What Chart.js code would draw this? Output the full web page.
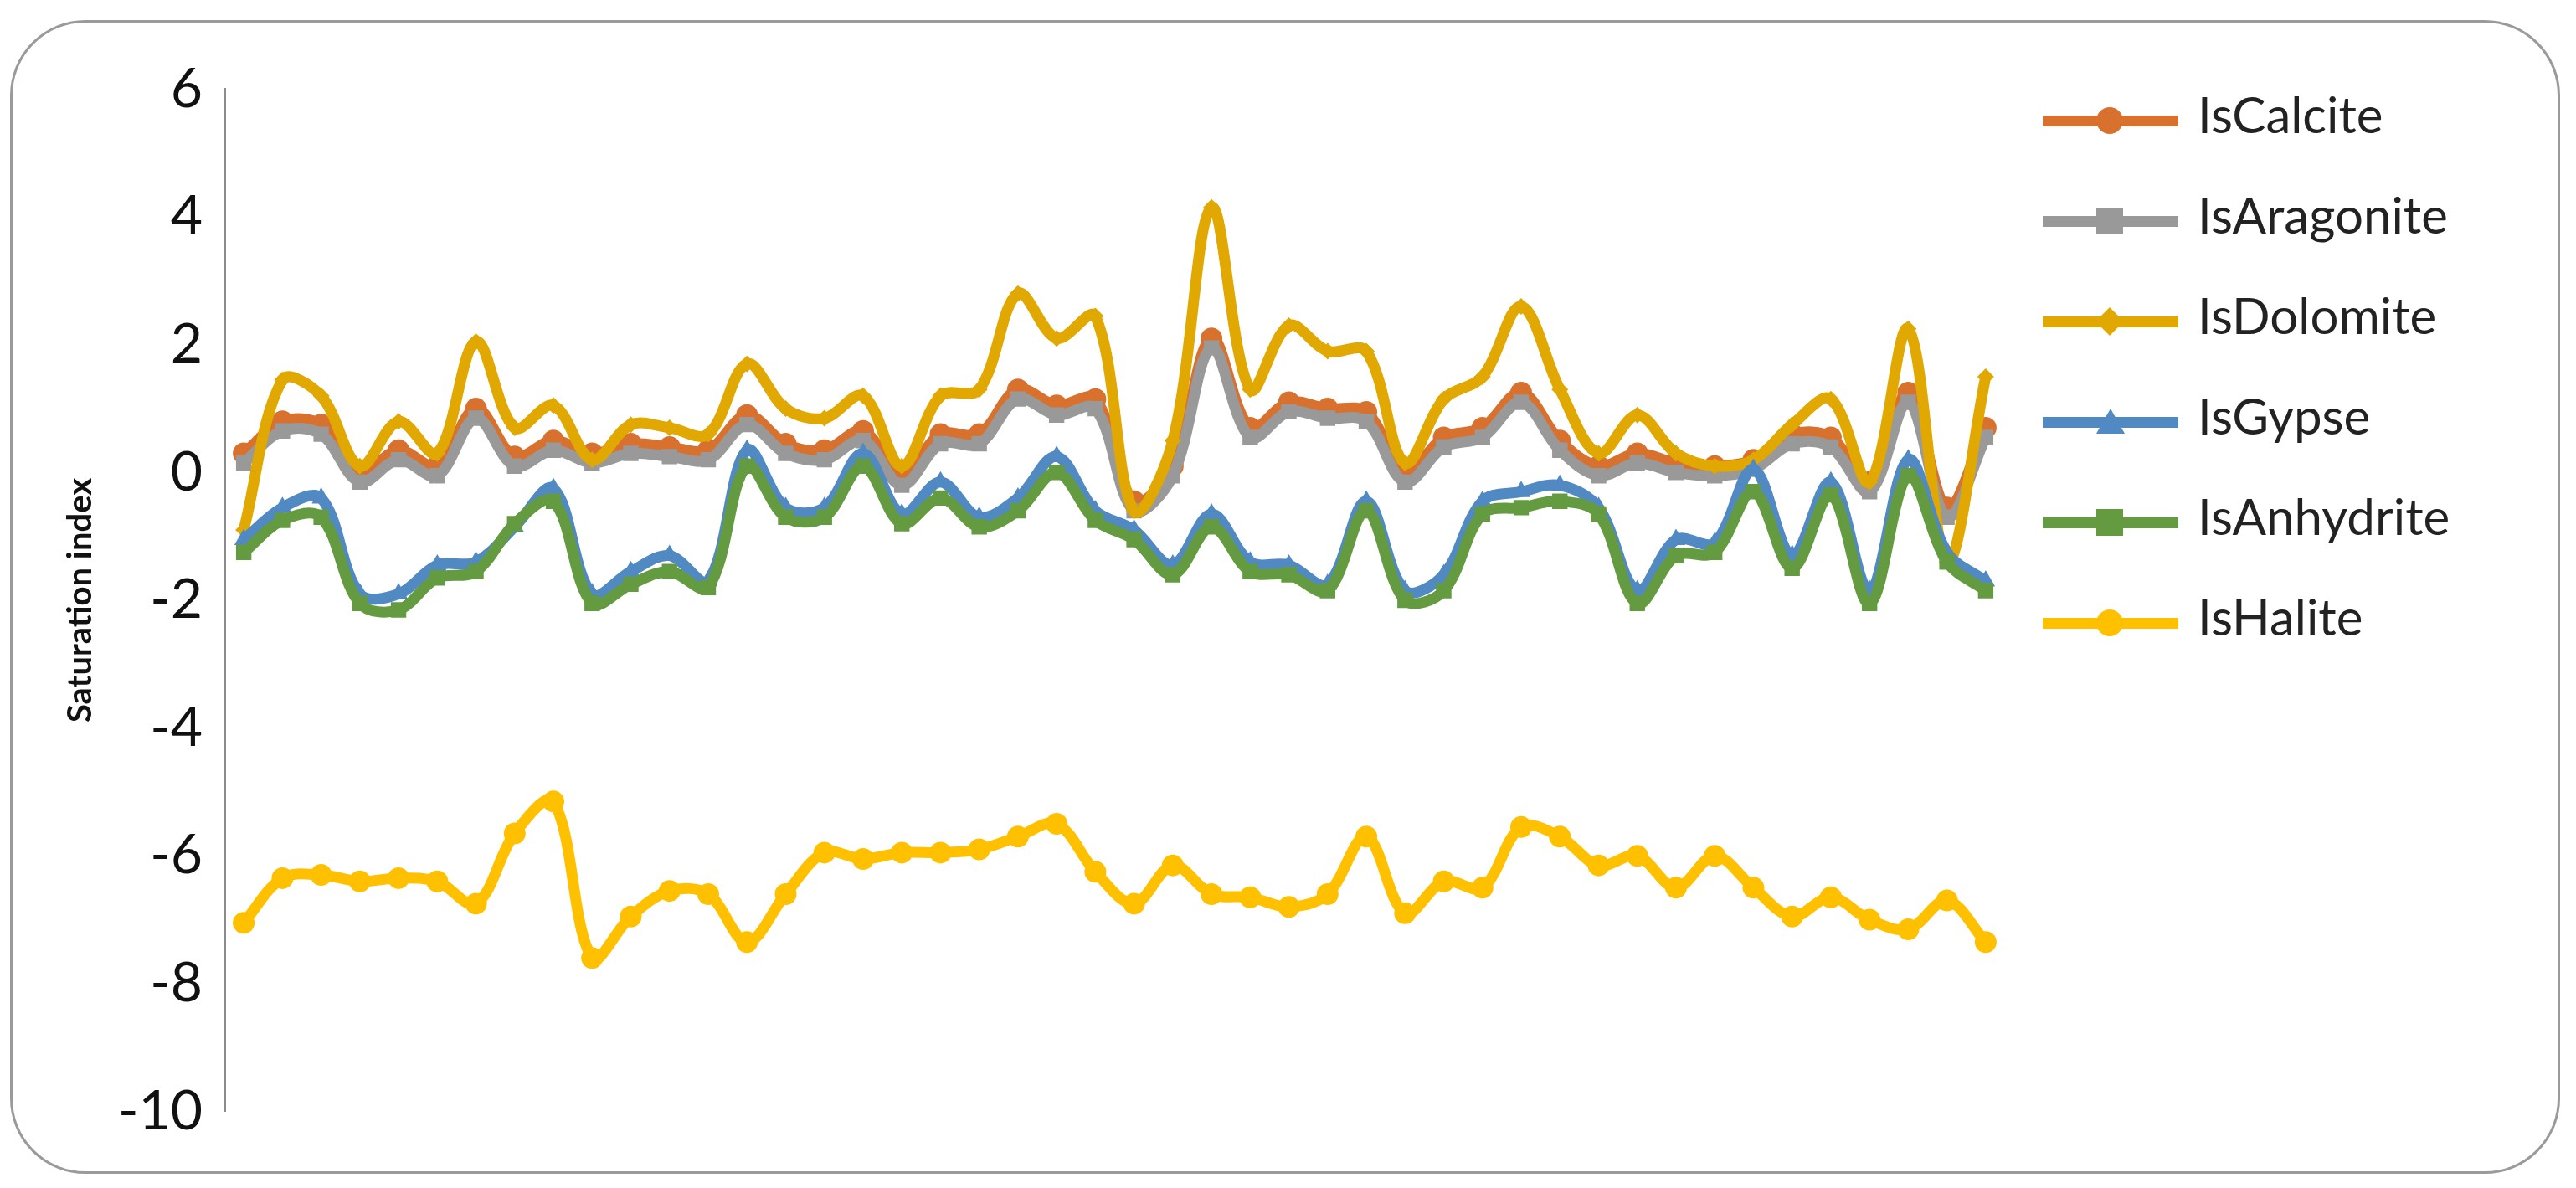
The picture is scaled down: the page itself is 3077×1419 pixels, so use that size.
<!DOCTYPE html>
<html><head><meta charset="utf-8">
<script src="https://cdn.jsdelivr.net/npm/chart.js@4/dist/chart.umd.min.js"></script>
<style>
  body{margin:0;background:#fff;width:3077px;height:1419px;position:relative;overflow:hidden;font-family:Lato,"Open Sans",sans-serif}
  #frame{position:absolute;left:12px;top:24px;width:3046px;height:1378px;border:3px solid #9a9a9a;border-radius:90px;box-sizing:border-box}
  #wrap{position:absolute;left:68px;top:49px;width:2340px;height:1336px}
  #legend{position:absolute;left:2440px;top:100px}
  .item{position:relative;height:120px;font-size:60px;color:#222}
  .item .ln{position:absolute;left:0;top:38px;width:162px;height:13px}
  .item .mk{position:absolute;left:64px;top:28px;width:32px;height:32px}
  .item span{position:absolute;left:185px;top:0px}
</style></head><body>
<div id="frame"></div>
<div id="wrap"><canvas id="c"></canvas></div>
<div id="legend"></div>
<script>
  var samples = []
  for (var i = 1; i <= 46; i++) samples.push('S' + i)

  var calcite = [0.3,0.8,0.75,0.0,0.35,0.1,1.0,0.25,0.5,0.3,0.45,0.4,0.35,0.9,0.45,0.35,0.65,-0.05,0.6,0.6,1.3,1.05,1.15,-0.45,0.1,2.1,0.7,1.1,1.0,0.95,0.0,0.55,0.7,1.25,0.5,0.1,0.3,0.15,0.1,0.2,0.6,0.55,-0.15,1.25,-0.55,0.7]
  var aragonite = [0.15,0.65,0.6,-0.15,0.2,-0.05,0.85,0.1,0.35,0.15,0.3,0.25,0.2,0.75,0.3,0.2,0.5,-0.2,0.45,0.45,1.15,0.9,1.0,-0.6,-0.05,1.95,0.55,0.95,0.85,0.8,-0.15,0.4,0.55,1.1,0.35,-0.05,0.15,0.0,-0.05,0.05,0.45,0.4,-0.3,1.1,-0.7,0.55]
  var dolomite = [-0.9,1.45,1.2,0.1,0.8,0.3,2.05,0.7,1.05,0.2,0.75,0.7,0.6,1.7,1.0,0.85,1.2,0.1,1.2,1.3,2.8,2.1,2.45,-0.6,0.5,4.15,1.3,2.3,1.9,1.9,0.15,1.15,1.5,2.6,1.3,0.3,0.9,0.3,0.1,0.2,0.75,1.15,-0.15,2.25,-1.4,1.5]
  var gypse = [-1.05,-0.55,-0.4,-1.9,-1.9,-1.45,-1.4,-0.85,-0.25,-1.9,-1.55,-1.3,-1.7,0.35,-0.55,-0.55,0.3,-0.65,-0.15,-0.7,-0.4,0.25,-0.6,-0.9,-1.45,-0.65,-1.4,-1.45,-1.75,-0.45,-1.85,-1.6,-0.45,-0.3,-0.2,-0.55,-1.85,-1.05,-1.1,0.05,-1.3,-0.15,-1.85,0.2,-1.25,-1.7]
  var anhydrite = [-1.25,-0.75,-0.7,-2.05,-2.15,-1.65,-1.55,-0.8,-0.45,-2.05,-1.75,-1.55,-1.8,0.1,-0.7,-0.7,0.1,-0.8,-0.4,-0.85,-0.6,0.0,-0.75,-1.05,-1.6,-0.85,-1.55,-1.6,-1.85,-0.6,-2.0,-1.85,-0.65,-0.55,-0.45,-0.65,-2.05,-1.3,-1.25,-0.3,-1.5,-0.35,-2.05,-0.05,-1.4,-1.85]
  var halite = [-7.05,-6.35,-6.3,-6.4,-6.35,-6.4,-6.75,-5.65,-5.15,-7.6,-6.95,-6.55,-6.6,-7.35,-6.6,-5.95,-6.05,-5.95,-5.95,-5.9,-5.7,-5.5,-6.25,-6.75,-6.15,-6.6,-6.65,-6.8,-6.6,-5.7,-6.9,-6.4,-6.5,-5.55,-5.7,-6.15,-6.0,-6.5,-6.0,-6.5,-6.95,-6.65,-7.0,-7.15,-6.7,-7.35]
  var yTicks = [6,4,2,0,-2,-4,-6,-8,-10]

  var series = [
    { label:'IsCalcite',   data:calcite,   color:'#d9712e', point:'circle',   order:6 },
    { label:'IsAragonite', data:aragonite, color:'#999999', point:'rect',     order:5 },
    { label:'IsDolomite',  data:dolomite,  color:'#e0a800', point:'rectRot',  order:4 },
    { label:'IsGypse',     data:gypse,     color:'#5189c2', point:'triangle', order:3 },
    { label:'IsAnhydrite', data:anhydrite, color:'#649b40', point:'rect',     order:2 },
    { label:'IsHalite',    data:halite,    color:'#ffc000', point:'circle',   order:1 }
  ]

  new Chart(document.getElementById('c'), {
    type:'line',
    data:{
      labels:samples,
      datasets:series.map(function(s){
        return { label:s.label, data:s.data, borderColor:s.color, backgroundColor:s.color,
          borderWidth:13, pointStyle:s.point, pointRadius:s.point==='rectRot'?10:13,
          pointBorderWidth:0, tension:0.35, order:s.order }
      })
    },
    options:{
      responsive:true, maintainAspectRatio:false, animation:false,
      layout:{ padding:{ top:22, bottom:20 } },
      plugins:{ legend:{ display:false }, tooltip:{ enabled:false } },
      scales:{
        x:{ display:false, offset:true },
        y:{
          min:-10, max:6,
          afterBuildTicks:function(ax){ ax.ticks = yTicks.map(function(v){ return { value:v } }) },
          afterFit:function(ax){ ax.width = 200 },
          grid:{ display:false },
          border:{ color:'#8c8c8c', width:3 },
          ticks:{ color:'#111', font:{ size:66, family:'Lato' }, padding:18 },
          title:{ display:true, text:'Saturation index', color:'#111', font:{ size:40, weight:'bold', family:'Lato' } }
        }
      }
    }
  })

  // legend as html, same order as the picture
  var lg = document.getElementById('legend')
  series.forEach(function(s){
    var d = document.createElement('div'); d.className = 'item'
    var mk = ''
    if (s.point === 'circle') mk = 'border-radius:50%;'
    if (s.point === 'rectRot') mk = 'transform:rotate(45deg) scale(0.75);'
    if (s.point === 'triangle') mk = 'background:none!important;width:0;height:0;border-left:17px solid transparent;border-right:17px solid transparent;border-bottom:30px solid '+s.color+';'
    d.innerHTML = '<div class="ln" style="background:'+s.color+'"></div><div class="mk" style="background:'+s.color+';'+mk+'"></div><span>'+s.label+'</span>'
    lg.appendChild(d)
  })
</script>
</body></html>
